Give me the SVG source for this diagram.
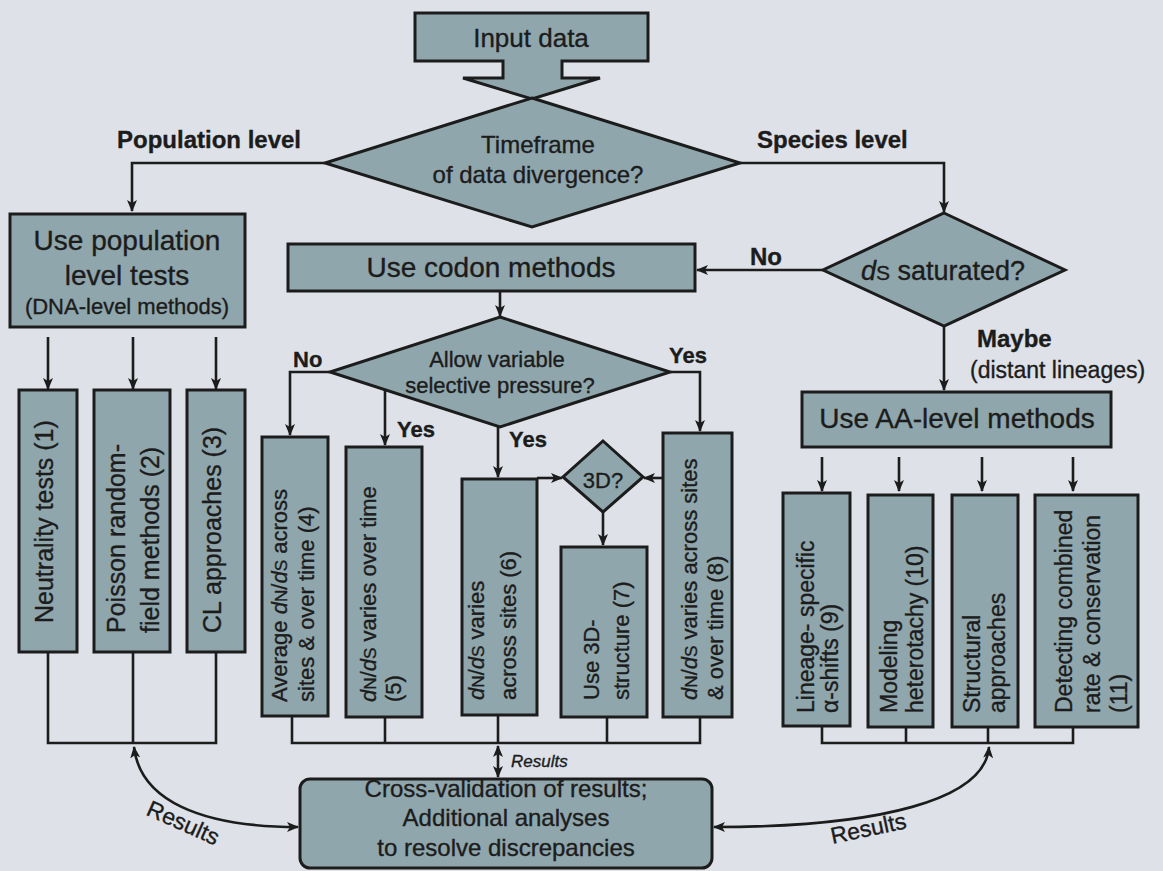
<svg xmlns="http://www.w3.org/2000/svg" width="1163" height="871" viewBox="0 0 1163 871">
<defs>
<style>
.bg{fill:#dee2e8}
.box{fill:#8fa6ac;stroke:#1c1c1c;stroke-width:3}
.ln{fill:none;stroke:#1c1c1c;stroke-width:2.6}
.t{font-family:"Liberation Sans",Arial,sans-serif;fill:#1c1c1c;stroke:#1c1c1c;stroke-width:0.35}
.big{font-size:28px}
.mid{font-size:24px}
.vt{font-size:25px}
.vc{font-size:22px}
.va{font-size:23px}
.lab{font-size:24px;font-weight:bold}
.yn{font-size:22px;font-weight:bold}
.c{text-anchor:middle}
.i{font-style:italic}
.s{font-size:78%}
</style>
<marker id="ah" viewBox="0 0 12 10" refX="11" refY="5" markerWidth="12" markerHeight="10" markerUnits="userSpaceOnUse" orient="auto-start-reverse">
<path d="M0,0 L12,5 L0,10 L3,5 z" fill="#1c1c1c"/>
</marker>
</defs>
<rect class="bg" x="0" y="0" width="1163" height="871"/>

<g id="connectors">
<polyline class="ln" points="325,163 132,163 132,211" marker-end="url(#ah)"/>
<polyline class="ln" points="740,163 944,163 944,212" marker-end="url(#ah)"/>
<line class="ln" x1="823" y1="270" x2="697" y2="270" marker-end="url(#ah)"/>
<line class="ln" x1="944" y1="326" x2="944" y2="390" marker-end="url(#ah)"/>
<line class="ln" x1="500" y1="292" x2="500" y2="316" marker-end="url(#ah)"/>
<line class="ln" x1="48" y1="337" x2="48" y2="389" marker-end="url(#ah)"/>
<line class="ln" x1="133" y1="337" x2="133" y2="389" marker-end="url(#ah)"/>
<line class="ln" x1="216" y1="337" x2="216" y2="389" marker-end="url(#ah)"/>
<polyline class="ln" points="330,372 290,372 290,435" marker-end="url(#ah)"/>
<line class="ln" x1="385" y1="390" x2="385" y2="445" marker-end="url(#ah)"/>
<line class="ln" x1="498" y1="427" x2="498" y2="477" marker-end="url(#ah)"/>
<polyline class="ln" points="670,372 700,372 700,431" marker-end="url(#ah)"/>
<line class="ln" x1="537" y1="478" x2="562" y2="478" marker-end="url(#ah)"/>
<line class="ln" x1="663" y1="478" x2="644" y2="478" marker-end="url(#ah)"/>
<line class="ln" x1="603" y1="512" x2="603" y2="545" marker-end="url(#ah)"/>
<line class="ln" x1="822" y1="457" x2="822" y2="491" marker-end="url(#ah)"/>
<line class="ln" x1="899" y1="457" x2="899" y2="491" marker-end="url(#ah)"/>
<line class="ln" x1="982" y1="457" x2="982" y2="491" marker-end="url(#ah)"/>
<line class="ln" x1="1073" y1="457" x2="1073" y2="491" marker-end="url(#ah)"/>
<polyline class="ln" points="48,652 48,743 216,743 216,652"/>
<line class="ln" x1="133" y1="652" x2="133" y2="743"/>
<polyline class="ln" points="292,716 292,743 700,743 700,717"/>
<line class="ln" x1="385" y1="717" x2="385" y2="743"/>
<line class="ln" x1="498" y1="715" x2="498" y2="743"/>
<line class="ln" x1="607" y1="717" x2="607" y2="743"/>
<polyline class="ln" points="822,726 822,743 1073,743 1073,727"/>
<line class="ln" x1="906" y1="727" x2="906" y2="743"/>
<line class="ln" x1="988" y1="727" x2="988" y2="743"/>
<line class="ln" x1="498" y1="746" x2="498" y2="777" marker-start="url(#ah)" marker-end="url(#ah)"/>
<path class="ln" d="M134,747 C140,800 200,827 298,827" marker-start="url(#ah)" marker-end="url(#ah)"/>
<path class="ln" d="M989,747 C985,800 880,827 714,827" marker-start="url(#ah)" marker-end="url(#ah)"/>
</g>

<g id="input">
<polygon class="box" points="415,13 648,13 648,61 562,61 562,78 600,78 532,99 463,78 503,78 503,61 415,61"/>
<text class="t c" x="531" y="47" style="font-size:26px">Input data</text>
</g>

<g id="timeframe">
<polygon class="box" points="532,98 740,163 532,227 325,163"/>
<text class="t c mid" x="538" y="153">Timeframe</text>
<text class="t c mid" x="538" y="183">of data divergence?</text>
</g>

<g id="labels">
<text class="t lab" x="117" y="148">Population level</text>
<text class="t lab" x="757" y="148">Species level</text>
<text class="t lab" x="750" y="265">No</text>
<text class="t lab" x="977" y="347">Maybe</text>
<text class="t" x="970" y="378" style="font-size:23px">(distant lineages)</text>
<text class="t yn" x="293" y="367">No</text>
<text class="t yn" x="397" y="437">Yes</text>
<text class="t yn" x="509" y="447">Yes</text>
<text class="t yn" x="669" y="363">Yes</text>
<text class="t i" x="511" y="767" style="font-size:17px">Results</text>
<text class="t c" transform="translate(180,830) rotate(24)" style="font-size:23px">Results</text>
<text class="t c" transform="translate(870,836) rotate(-12)" style="font-size:23px">Results</text>
</g>

<g id="pop">
<rect class="box" x="10" y="214" width="235" height="113"/>
<text class="t c big" x="127" y="250">Use population</text>
<text class="t c big" x="127" y="285">level tests</text>
<text class="t c" x="127" y="314" style="font-size:22px">(DNA-level methods)</text>
</g>

<g id="codon">
<rect class="box" x="288" y="244" width="407" height="47"/>
<text class="t c big" x="491" y="277">Use codon methods</text>
</g>

<g id="ds">
<polygon class="box" points="944,213 1065,270 944,326 823,270"/>
<text class="t c" x="943" y="280" style="font-size:27px"><tspan class="i">d</tspan><tspan class="s">S</tspan> saturated?</text>
</g>

<g id="allow">
<polygon class="box" points="500,317 670,372 500,427 330,372"/>
<text class="t c" x="497" y="367" style="font-size:22px">Allow variable</text>
<text class="t c" x="500" y="393" style="font-size:22px">selective pressure?</text>
</g>

<g id="aa">
<rect class="box" x="802" y="392" width="309" height="55"/>
<text class="t c big" x="957" y="428">Use AA-level methods</text>
</g>

<g id="n1">
<rect class="box" x="19" y="390" width="58" height="262"/>
<text class="t vt" transform="translate(53,623) rotate(-90)">Neutrality tests (1)</text>
</g>
<g id="n2">
<rect class="box" x="94" y="390" width="76" height="262"/>
<text class="t vt" transform="translate(125,633) rotate(-90)">Poisson random-</text>
<text class="t vt" transform="translate(159,633) rotate(-90)">field methods (2)</text>
</g>
<g id="n3">
<rect class="box" x="187" y="390" width="58" height="262"/>
<text class="t vt" transform="translate(221,633) rotate(-90)">CL approaches (3)</text>
</g>

<g id="n4">
<rect class="box" x="262" y="437" width="66" height="279"/>
<text class="t vc" transform="translate(287,702) rotate(-90)">Average <tspan class="i">d</tspan><tspan class="s">N</tspan>/<tspan class="i">d</tspan><tspan class="s">S</tspan> across</text>
<text class="t vc" transform="translate(314,702) rotate(-90)">sites &amp; over time (4)</text>
</g>
<g id="n5">
<rect class="box" x="346" y="447" width="76" height="270"/>
<text class="t vc" transform="translate(376,702) rotate(-90)"><tspan class="i">d</tspan><tspan class="s">N</tspan>/<tspan class="i">d</tspan><tspan class="s">S</tspan> varies over time</text>
<text class="t vc" transform="translate(401,702) rotate(-90)">(5)</text>
</g>
<g id="n6">
<rect class="box" x="462" y="479" width="75" height="236"/>
<text class="t vc" transform="translate(484,700) rotate(-90)"><tspan class="i">d</tspan><tspan class="s">N</tspan>/<tspan class="i">d</tspan><tspan class="s">S</tspan> varies</text>
<text class="t vc" transform="translate(516,700) rotate(-90)">across sites (6)</text>
</g>
<g id="d3">
<polygon class="box" points="603,441 643,477 603,512 563,477"/>
<text class="t c" x="603" y="488" style="font-size:22px">3D?</text>
</g>
<g id="n7">
<rect class="box" x="561" y="547" width="86" height="170"/>
<text class="t vc" transform="translate(599,700) rotate(-90)">Use 3D-</text>
<text class="t vc" transform="translate(629,700) rotate(-90)">structure (7)</text>
</g>
<g id="n8">
<rect class="box" x="663" y="433" width="69" height="284"/>
<text class="t vc" transform="translate(697,700) rotate(-90)"><tspan class="i">d</tspan><tspan class="s">N</tspan>/<tspan class="i">d</tspan><tspan class="s">S</tspan> varies across sites</text>
<text class="t vc" transform="translate(723,700) rotate(-90)">&amp; over time (8)</text>
</g>

<g id="n9">
<rect class="box" x="783" y="493" width="67" height="233"/>
<text class="t va" transform="translate(814,713) rotate(-90)">Lineage- specific</text>
<text class="t va" transform="translate(838,713) rotate(-90)">α-shifts (9)</text>
</g>
<g id="n10">
<rect class="box" x="868" y="495" width="65" height="232"/>
<text class="t va" transform="translate(897,713) rotate(-90)">Modeling</text>
<text class="t va" transform="translate(923,713) rotate(-90)">heterotachy (10)</text>
</g>
<g id="nst">
<rect class="box" x="952" y="495" width="66" height="232"/>
<text class="t va" transform="translate(980,713) rotate(-90)">Structural</text>
<text class="t va" transform="translate(1005,713) rotate(-90)">approaches</text>
</g>
<g id="n11">
<rect class="box" x="1035" y="495" width="103" height="232"/>
<text class="t va" transform="translate(1072,713) rotate(-90)">Detecting combined</text>
<text class="t va" transform="translate(1100,713) rotate(-90)">rate &amp; conservation</text>
<text class="t va" transform="translate(1127,713) rotate(-90)">(11)</text>
</g>

<g id="cross">
<rect class="box" x="300" y="779" width="412" height="89" rx="10" ry="10"/>
<text class="t c mid" x="506" y="797">Cross-validation of results;</text>
<text class="t c mid" x="506" y="826">Additional analyses</text>
<text class="t c mid" x="506" y="856">to resolve discrepancies</text>
</g>
</svg>
